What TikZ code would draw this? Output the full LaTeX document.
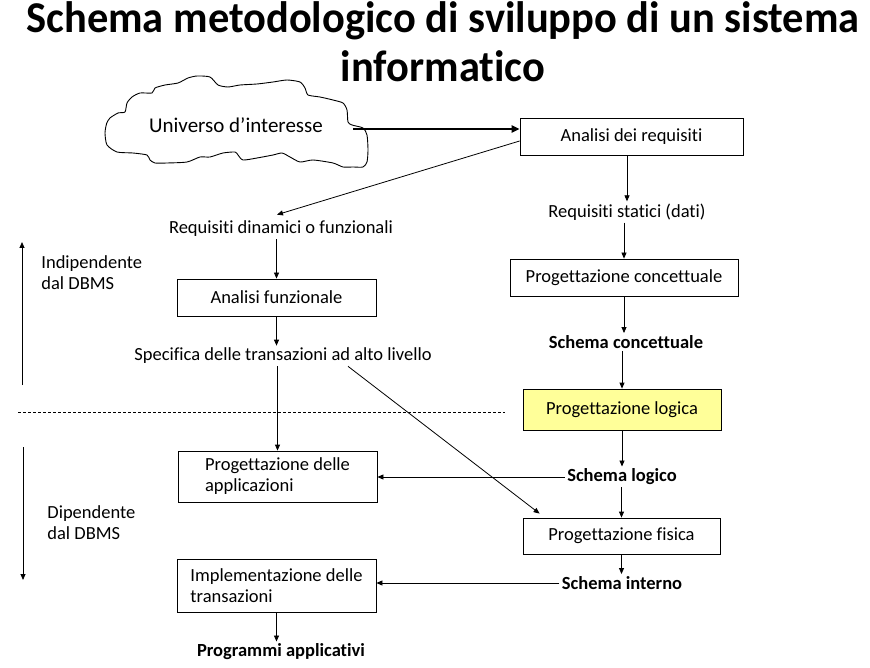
\documentclass[tikz,border=0pt]{standalone}
\usepackage{fontspec}
\setmainfont{Carlito}[Ligatures={NoCommon}]
\newfontfamily\titlefont{Carlito}[FakeStretch=0.965,Ligatures={NoCommon}]
\usetikzlibrary{positioning,arrows.meta,calc}
\definecolor{logicfill}{RGB}{255,255,153}

\begin{document}
\begin{tikzpicture}[x=1pt,y=-1pt,line width=0.8pt,
  box/.style={draw,minimum width=199pt,minimum height=37pt,inner sep=0pt,align=left,font=\fontsize{18.5}{21}\selectfont},
  lbl/.style={inner sep=2pt,font=\fontsize{18.5}{21}\selectfont},
  blbl/.style={inner sep=2pt,font=\fontsize{18.5}{21}\selectfont\bfseries},
  ttl/.style={anchor=base,inner sep=0pt,font=\fontsize{44}{49}\titlefont\bfseries},
  arr/.style={-{Triangle[length=6pt,width=5pt]}}]
\useasboundingbox (0,0) rectangle (870,668);
% title
\node[ttl] (title) at (443,33) {Schema metodologico di sviluppo di un sistema};
\node[ttl] (title2) at (443,82) {informatico};
% universe of discourse (hand-drawn cloud)
\draw[line width=0.9pt] plot[smooth cycle,tension=0.4] coordinates {(106.7,123.3) (110,118) (118,113) (125,112) (127,103) (132,97) (140,93) (152,93) (155,88) (165,85) (178,83) (188,78) (197,76) (210,77) (218,85) (228,87) (240,85) (257,84) (273,82) (287,80) (300,82) (305,88) (308,95) (320,97) (333,100) (343,103) (347,110) (348,122) (352,125) (363,128) (367,135) (368,150) (367,162) (363,167) (353,167) (343,167) (333,163) (313,160) (300,162) (290,157) (282,153) (273,155) (257,158) (243,160) (238,155) (235,152) (223,153) (210,157) (200,157) (187,162) (167,163) (155,163) (150,160) (147,155) (133,153) (117,152) (107,145) (105,133)};
\node[font=\fontsize{21}{24}\selectfont] (univ) at (236,125) {Universo d’interesse};
\coordinate (cloudR) at (353,129);
% right column: data
\node[box,minimum width=223pt] (req) at (631.5,137) {Analisi dei requisiti};
\node[lbl] (stat) at (627,212) {Requisiti statici (dati)};
\node[box,minimum width=228pt] (conc) at (624,277.5) {Progettazione concettuale};
\node[blbl] (sconc) at (626,342) {Schema concettuale};
\node[box,fill=logicfill,minimum width=198pt,minimum height=41pt] (logica) at (622,409.5) {Progettazione logica};
\node[blbl] (slog) at (622,477) {Schema logico};
\node[box,minimum width=197pt,minimum height=36pt] (fisica) at (621.5,536) {Progettazione fisica};
\node[blbl] (sint) at (622,583) {Schema interno};
% left column: functions
\node[lbl] (din) at (281,229) {Requisiti dinamici o funzionali};
\node[box] (funz) at (276.5,297.5) {Analisi funzionale};
\node[lbl] (spec) at (283,356) {Specifica delle transazioni ad alto livello};
\node[box,minimum height=51pt] (appl) at (277.5,476.5) {Progettazione delle\\applicazioni};
\node[box,minimum height=53pt] (impl) at (276.5,585.5) {Implementazione delle\\transazioni};
\node[blbl] (prog) at (281,652) {Programmi applicativi};
% DBMS dependence
\node[lbl,anchor=west,align=left] (indip) at (39,273) {Indipendente\\dal DBMS};
\node[lbl,anchor=west,align=left] (dip) at (45,523) {Dipendente\\dal DBMS};
\coordinate (upA) at (22,385);
\coordinate (upB) at (22,242);
\coordinate (dnA) at (23,447);
\coordinate (dnB) at (23,580);
\coordinate (dashL) at (18,412);
\coordinate (dashR) at (505,412);
\draw[arr] (upA) -- (upB);
\draw[arr] (dnA) -- (dnB);
\draw[dashed,line width=0.6pt,dash pattern=on 3pt off 2pt] (dashL) -- (dashR);
% connectors
\draw[-{Triangle[length=8pt,width=7pt]},line width=2pt] (cloudR) -- ([yshift=8pt]req.west);
\draw[arr] ([yshift=-4pt]req.west) -- ([xshift=-4pt,yshift=4pt]din.north);
\draw[arr] (req.south -| stat.north) -- (stat.north);
\draw[arr] (stat.south -| conc.north) -- (conc.north);
\draw[arr] (conc.south) -- (conc.south |- sconc.north);
\draw[arr] (sconc.south -| logica.north) -- (logica.north);
\draw[arr] (logica.south) -- (logica.south |- slog.north);
\draw[arr] (slog.south -| fisica.north) -- (fisica.north);
\draw[arr] (fisica.south) -- (fisica.south |- sint.north);
\draw[arr] (din.south -| funz.north) -- (funz.north);
\draw[arr] (funz.south) -- (funz.south |- spec.north);
\draw[arr] (spec.south -| appl.north) -- (appl.north);
\draw[arr] ([xshift=65pt]spec.south) -- ([xshift=17pt,yshift=4pt]fisica.north west);
\draw[arr] (slog.west) -- (slog.west -| appl.east);
\draw[arr] (sint.west) -- (sint.west -| impl.east);
\draw[arr] (impl.south) -- (impl.south |- prog.north);
\end{tikzpicture}
\end{document}
